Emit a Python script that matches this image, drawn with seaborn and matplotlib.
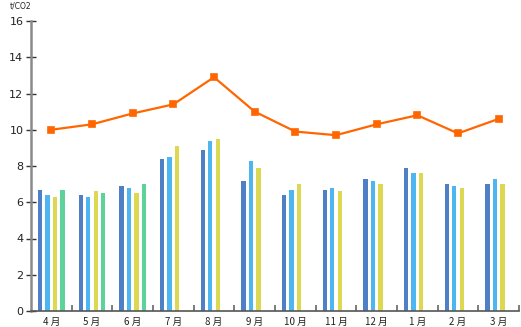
import numpy as np
import pandas as pd
import matplotlib
matplotlib.use("Agg")
import matplotlib.pyplot as plt
import seaborn as sns
from matplotlib.ticker import FixedLocator

sns.set_style("white")
plt.rcParams['font.family'] = ['Noto Sans CJK JP', 'DejaVu Sans']

months = ["4月", "5月", "6月", "7月", "8月", "9月", "10月", "11月", "12月", "1月", "2月", "3月"]
series_a = [6.7, 6.4, 6.9, 8.4, 8.9, 7.2, 6.4, 6.7, 7.3, 7.9, 7.0, 7.0]
series_b = [6.4, 6.3, 6.8, 8.5, 9.4, 8.3, 6.7, 6.8, 7.2, 7.6, 6.9, 7.3]
series_c = [6.3, 6.6, 6.5, 9.1, 9.5, 7.9, 7.0, 6.6, 7.0, 7.6, 6.8, 7.0]
series_d = [6.7, 6.5, 7.0, np.nan, np.nan, np.nan, np.nan, np.nan, np.nan, np.nan, np.nan, np.nan]
line_vals = [10.0, 10.3, 10.9, 11.4, 12.9, 11.0, 9.9, 9.7, 10.3, 10.8, 9.8, 10.6]
yticks = [0, 2, 4, 6, 8, 10, 12, 14, 16]

series_names = ["A", "B", "C", "D"]
colors = ["#4f7fc4", "#4db5f0", "#dcd851", "#5dd39b"]

rows = []
for name, vals in zip(series_names, [series_a, series_b, series_c, series_d]):
    for m, v in zip(months, vals):
        rows.append({"month": m, "series": name, "value": v})
df = pd.DataFrame(rows)
line_df = pd.DataFrame({"month": months, "value": line_vals})

fig = plt.figure(figsize=(5.21, 3.27), dpi=100)
ax = fig.add_axes([31 / 521, 16 / 327, 488 / 521, 290 / 327])

sns.barplot(data=df, x="month", y="value", hue="series", hue_order=series_names,
            order=months, palette=colors, width=0.74, errorbar=None,
            saturation=1, legend=False, ax=ax)
# narrow each bar around its own centre
bar_w = 0.105
for p in ax.patches:
    cx = p.get_x() + p.get_width() / 2
    p.set_width(bar_w)
    p.set_x(cx - bar_w / 2)
    p.set_linewidth(0)

sns.pointplot(data=line_df, x="month", y="value", order=months, color="#ff6600",
              markers="s", markersize=4, linewidth=1.6, errorbar=None, ax=ax)

ax.set_xlim(-0.5, 11.5)
ax.set_ylim(0, 16)
ax.set_yticks(yticks)
ax.set_yticklabels([str(t) for t in yticks], fontsize=8, color="#222222",
                   family=['DejaVu Sans'])
ax.set_xlabel("")
ax.set_ylabel("")
ax.set_xticks(range(len(months)))
ax.set_xticklabels([m[:-1] + " " + m[-1] for m in months], fontsize=7, color="#222222")
ax.tick_params(axis="x", which="major", length=0, pad=4)
ax.xaxis.set_minor_locator(FixedLocator(np.arange(0.5, 12, 1.0)))
ax.tick_params(axis="x", which="minor", bottom=True, direction="in", length=4,
               width=1.2, color="#666666")
ax.tick_params(axis="y", left=True, direction="inout", length=7, width=1,
               color="#333333", pad=2)

for s in ["top", "right"]:
    ax.spines[s].set_visible(False)
ax.spines["left"].set_color("#8a8a8a")
ax.spines["left"].set_linewidth(1.8)
ax.spines["bottom"].set_color("#555555")
ax.spines["bottom"].set_linewidth(1.2)

fig.text(10 / 521, 1 - 6 / 327, "t/CO2", fontsize=5.5, color="#222222", va="center",
         ha="left", family=['DejaVu Sans'])

fig.savefig("out.png", dpi=100)
